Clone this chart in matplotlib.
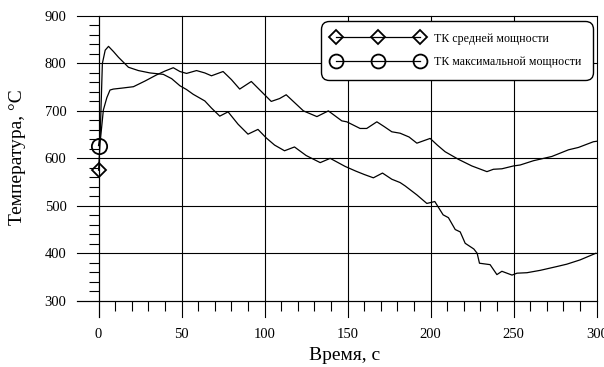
import matplotlib
matplotlib.use('Agg')
import matplotlib.pyplot as plt
from matplotlib.lines import Line2D
from matplotlib.ticker import FixedLocator

# Kiln thermocouple readings (time in s, temperature in deg C)
time_max = [0, 1, 2.3, 4, 6, 9, 12, 18, 24, 31, 39, 44, 49, 53, 57, 60, 64, 68, 73, 78,
            84, 90, 96, 101, 106, 112, 118, 125, 133.5, 139.5, 148.5, 155, 160, 165.5, 171,
            176.6, 181.6, 184.6, 191.7, 197.7, 202.5, 207.5, 210.7, 214.8, 217.8, 220.8,
            226, 228, 229.4, 235.8, 239.9, 242.9, 249, 252, 258, 266, 276, 282, 290, 299.5]
temp_max = [627, 650, 800, 828, 836, 825, 813, 792, 785, 780, 777, 768, 753, 745, 735, 729,
            721, 706, 689, 698, 672, 651, 661, 643, 628, 616, 624, 606, 591, 600, 583, 573,
            566, 559, 569, 556, 549, 542, 523, 505, 509, 481, 475, 450, 445, 421, 409, 400,
            379, 376, 355, 362, 354, 358, 359, 364, 372, 377, 386, 400]

time_mid = [0, 0.9, 2.9, 5, 6.9, 8.9, 14, 21, 28, 35, 40, 45, 49, 53, 59, 64, 68, 75, 80, 85,
            92, 104, 109, 113, 123.4, 131.5, 138.4, 146.5, 149.5, 157.5, 161.5, 167.6, 172,
            176.6, 181.6, 187, 191.7, 199.7, 204, 208.7, 216.7, 224.8, 233.9, 237.8, 242.9,
            249.9, 253.9, 261.9, 273, 283, 289, 298, 300]
temp_mid = [575, 632, 702, 728, 744, 746, 748, 751, 763, 776, 784, 791, 783, 779, 785, 780,
            774, 783, 766, 746, 762, 720, 726, 734, 700, 688, 700, 679, 677, 663, 663, 677,
            667, 656, 653, 645, 632, 642, 628, 614, 598, 584, 572, 577, 578, 584, 586, 595,
            604, 618, 623, 635, 636]

x_ticks = [0, 50, 100, 150, 200, 250, 300]
y_ticks = [300, 400, 500, 600, 700, 800, 900]
label_mid = 'ТК средней мощности'
label_max = 'ТК максимальной мощности'

plt.rcParams['font.family'] = ['Liberation Serif', 'DejaVu Serif']

W, H = 604, 367
fig = plt.figure(figsize=(W / 100, H / 100), dpi=100)
ax = fig.add_axes([77.3 / W, (H - 316.7) / H, (596.7 - 77.3) / W, (316.7 - 16) / H])
ax.set_xlim(-12.8, 300)
ax.set_ylim(266.3, 900)

# grid lines run past the axis lines, like the original
for y in y_ticks:
    ax.axhline(y, color='black', lw=0.8, clip_on=False, zorder=1)
for x in x_ticks:
    ax.axvline(x, color='black', lw=0.8, clip_on=False, zorder=1)

ax.plot(time_max, temp_max, color='black', lw=0.9, zorder=3)
ax.plot(time_mid, temp_mid, color='black', lw=0.9, zorder=3)
ax.plot(time_max[:1], temp_max[:1], 'o', ms=11, mfc='none', mec='black', mew=1.3, zorder=4)
ax.plot(time_mid[:1], temp_mid[:1], 'D', ms=7.5, mfc='none', mec='black', mew=1.3, zorder=4)

for side in ['top', 'right']:
    ax.spines[side].set_visible(False)
ax.spines['left'].set_position(('data', 0))
ax.spines['bottom'].set_position(('data', 300))
ax.spines['left'].set_linewidth(0.8)
ax.spines['bottom'].set_linewidth(0.8)

ax.set_xticks(x_ticks)
ax.set_yticks(y_ticks)
ax.xaxis.set_minor_locator(FixedLocator(range(10, 300, 10)))
ax.yaxis.set_minor_locator(FixedLocator(range(320, 900, 20)))
ax.tick_params(which='major', length=0, labelsize=10.5)
ax.tick_params(axis='y', which='major', pad=23)
ax.tick_params(axis='x', which='major', pad=20)
ax.tick_params(which='minor', direction='out', length=7.5, width=0.8)

fig.text(18 / W, 1 - 157.5 / H, 'Температура, °C', rotation=90,
         ha='center', va='center', fontsize=14)
fig.text(345 / W, 1 - 355 / H, 'Время, с', ha='center', va='center', fontsize=14)

handles = [
    Line2D([], [], color='black', lw=0.9, marker='D', ms=7.5, mfc='none', mew=1.3),
    Line2D([], [], color='black', lw=0.9, marker='o', ms=10, mfc='none', mew=1.3),
]
leg = ax.legend(handles, [label_mid, label_max], loc='upper right',
                bbox_to_anchor=(593.3 / W, 1 - 20.7 / H), bbox_transform=fig.transFigure,
                borderaxespad=0, numpoints=3, handlelength=7.6, handletextpad=0.9,
                borderpad=1.0, labelspacing=0.95, fontsize=8.6, fancybox=True)
frame = leg.get_frame()
frame.set_edgecolor('black')
frame.set_linewidth(1.0)
frame.set_alpha(1)
frame.set_boxstyle('round', pad=0, rounding_size=0.7)

fig.savefig('out.png', dpi=100)
